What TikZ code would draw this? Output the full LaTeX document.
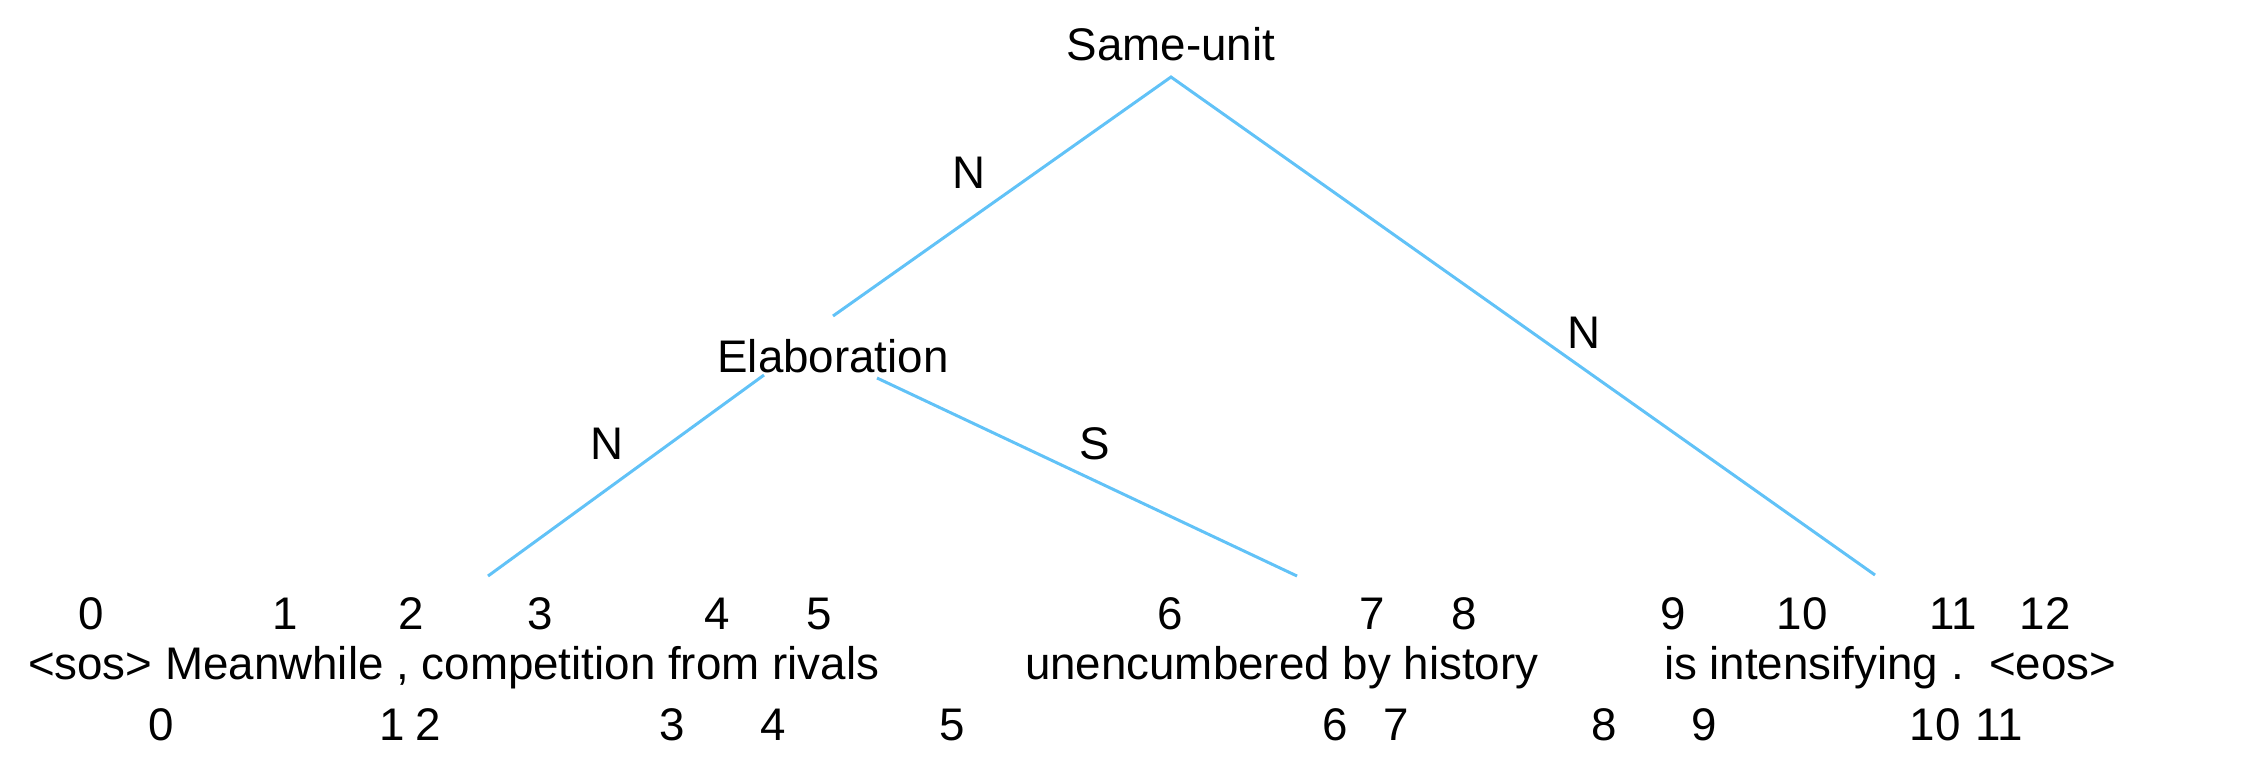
\documentclass[tikz,border=0pt]{standalone}
\usepackage{fontspec}
\setmainfont{Liberation Sans}
\definecolor{edgeblue}{RGB}{97,194,247}
\tikzset{
  lbl/.style={anchor=base, inner sep=0pt, outer sep=0pt, font=\fontsize{13pt}{15pt}\selectfont},
  lblw/.style={anchor=base west, inner sep=0pt, outer sep=0pt, font=\fontsize{13pt}{15pt}\selectfont},
  edge/.style={draw=edgeblue, line width=0.85pt}
}
\begin{document}
\frenchspacing
\begin{tikzpicture}[x=0.01cm, y=-0.01cm]
\useasboundingbox (0,0) rectangle (2249,778);
% tree labels
\node[lbl] (su) at (1171,60) {Same-unit};
\node[lbl] (el) at (833,372) {Elaboration};
\node[lbl] (n1) at (969,188) {N};
\node[lbl] (n2) at (1584,348) {N};
\node[lbl] (n3) at (607,459) {N};
\node[lbl] (s1) at (1095,459) {S};
% connector end points
\coordinate (suA) at (1171,77);
\coordinate (elT) at (833,316);
\coordinate (rT) at (1875,575);
\coordinate (elL) at (764,375);
\coordinate (elR) at (877,378);
\coordinate (lT) at (488,576);
\coordinate (mT) at (1297,576);
\draw[edge] (elT) -- (suA) -- (rT);
\draw[edge] (elL) -- (lT);
\draw[edge] (elR) -- (mT);
% top indices
\node[lbl] (t0) at (91,629) {0};
\node[lbl] (t1) at (285,629) {1};
\node[lbl] (t2) at (411,629) {2};
\node[lbl] (t3) at (540,629) {3};
\node[lbl] (t4) at (717,629) {4};
\node[lbl] (t5) at (819,629) {5};
\node[lbl] (t6) at (1170,629) {6};
\node[lbl] (t7) at (1372,629) {7};
\node[lbl] (t8) at (1464,629) {8};
\node[lbl] (t9) at (1673,629) {9};
\node[lbl] (t10) at (1802,629) {10};
\node[lbl] (t11) at (1953,629) {11};
\node[lbl] (t12) at (2045,629) {12};
% text
\node[lblw] (w1) at (28,679) {<sos> Meanwhile , competition from rivals};
\node[lblw] (w2) at (1025,679) {unencumbered by history};
\node[lblw] (w3) at (1664,679) {is intensifying .\ \ <eos>};
% bottom indices
\node[lbl] (b0) at (161,740) {0};
\node[lbl] (b1) at (392,740) {1};
\node[lbl] (b2) at (428,740) {2};
\node[lbl] (b3) at (672,740) {3};
\node[lbl] (b4) at (773,740) {4};
\node[lbl] (b5) at (952,740) {5};
\node[lbl] (b6) at (1335,740) {6};
\node[lbl] (b7) at (1396,740) {7};
\node[lbl] (b8) at (1604,740) {8};
\node[lbl] (b9) at (1704,740) {9};
\node[lbl] (b10) at (1935,740) {10};
\node[lbl] (b11) at (1999,740) {11};
\end{tikzpicture}
\end{document}
